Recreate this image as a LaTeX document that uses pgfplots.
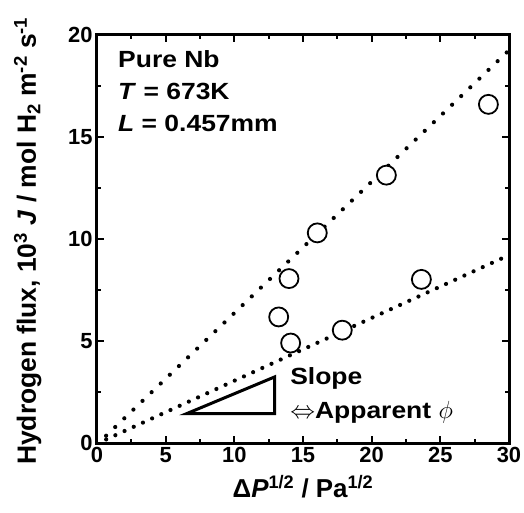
\documentclass[border=0pt]{standalone}
\usepackage{fontspec}
\setmainfont{Liberation Sans}
\newfontfamily\annfont{Liberation Sans}[FakeStretch=1.13]
\usepackage{pgfplots}
\pgfplotsset{compat=1.18}
\begin{document}
\begin{tikzpicture}
\begin{axis}[
  scale only axis, width=412bp, height=408bp,
  at={(0,0)}, anchor=south west,
  xmin=0, xmax=30, ymin=0, ymax=20,
  xtick={0,5,...,30}, ytick={0,5,...,20},
  minor x tick num=1, minor y tick num=1,
  tick align=inside, major tick length=7bp, minor tick length=4bp,
  every tick/.style={black, line width=2bp},
  axis line style={line width=3bp},
  /pgf/number format/assume math mode=true,
  tick label style={font=\fontsize{22}{22}\selectfont\bfseries},
  xticklabel style={yshift=-1bp},
  yticklabel style={xshift=-1bp},
  xlabel={Δ\textit{P}\textsuperscript{1/2} / Pa\textsuperscript{1/2}},
  ylabel={Hydrogen flux, 10\textsuperscript{3} \textit{J} / mol H\textsubscript{2} m\textsuperscript{-2} s\textsuperscript{-1}},
  xlabel style={font=\fontsize{26}{26}\selectfont\bfseries, at={(axis description cs:0.5,-0.108)}, anchor=center},
  ylabel style={font=\fontsize{26.5}{26.5}\selectfont\bfseries, at={(axis description cs:-0.168,0.495)}, anchor=center},
]
\addplot[black, line width=4.2bp, line cap=round, dash pattern=on 0pt off 12.6bp] coordinates {(0,-0.07) (30,19.25)};
\addplot[black, line width=4.2bp, line cap=round, dash pattern=on 0pt off 10.1bp] coordinates {(0,-0.03) (30,9.21)};
\addplot[only marks, mark=*, mark size=9.5bp, mark options={line width=1.8bp, draw=black, fill=white}] coordinates {
(28.5,16.6) (21.07,13.13) (16.04,10.3) (13.98,8.06) (13.23,6.18) (14.1,4.9) (17.86,5.53) (23.62,8.02)};
\draw[line width=3bp] (axis cs:6.53,1.44) -- (axis cs:12.94,1.44) -- (axis cs:12.94,3.24) -- cycle;
\begin{scope}[every node/.style={anchor=base west, inner sep=0pt, font=\annfont\fontsize{23.5}{23.5}\selectfont\bfseries}]
\node at (axis cs:1.53,18.39) {Pure Nb};
\node at (axis cs:1.53,16.82) {\textit{T} = 673K};
\node at (axis cs:1.53,15.25) {\textit{L} = 0.457mm};
\node at (axis cs:14.06,2.88) {Slope};
\node at (axis cs:14.06,1.21) {$\Leftrightarrow$Apparent $\phi$};
\end{scope}
\end{axis}
\pgfresetboundingbox
\path (-97bp,-70bp) rectangle (427bp,443bp);
\end{tikzpicture}
\end{document}
